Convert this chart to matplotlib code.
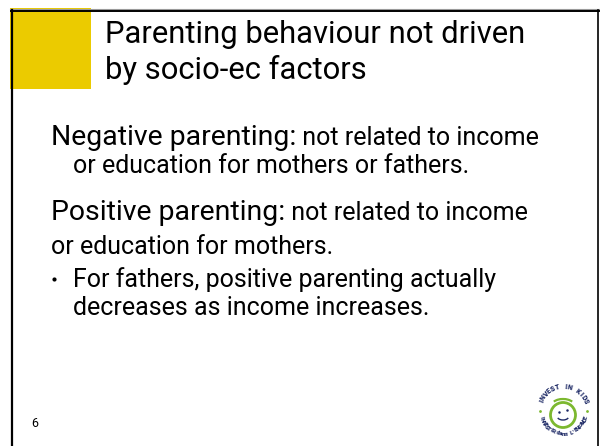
import numpy as np
import matplotlib.pyplot as plt
from matplotlib.patches import Rectangle, Circle, Arc

W, H = 600, 446
FONT = "Roboto"
YELLOW = "#EBCB00"
NAVY = "#1e2a66"
GREEN = "#7cb82f"

# slide text
title_lines = ["Parenting behaviour not driven", "by socio-ec factors"]
title_x = 105
title_y = [43, 79]

# each row: (big run, small run)
rows = [
    ("Negative parenting:", " not related to income"),
    ("", "or education for mothers or fathers."),
    ("Positive parenting:", " not related to income"),
    ("", "or education for mothers."),
    ("", "For fathers, positive parenting actually"),
    ("", "decreases as income increases."),
]
rows_x = [51, 73, 51, 51, 73, 73]
rows_y = [145, 173, 220, 254, 287, 315]
bullet_row = 4
page_number = "6"
logo_top = "INVEST IN KIDS"
logo_bottom = "INVESTIR dans L'ENFANCE"

fig = plt.figure(figsize=(W / 100, H / 100), dpi=100)
ax = fig.add_axes([0, 0, 1, 1])
ax.set_xlim(0, W)
ax.set_ylim(H, 0)
ax.axis("off")
renderer = fig.canvas.get_renderer()


def width_of(txt, size):
    t = ax.text(0, 0, txt, fontsize=size, family=FONT)
    w = t.get_window_extent(renderer).width
    t.remove()
    return w


# font sizes fitted to the widths seen on the slide
fs_title = 20 * (524 - 105) / width_of(title_lines[0], 20)
fs_big = 20 * (295 - 51) / width_of("Negative parenting:", 20)
fs_small = 20 * (468 - 73) / width_of("or education for mothers or fathers.", 20)

# yellow block and frame
ax.add_patch(Rectangle((10, 8), 81, 81, color=YELLOW, lw=0, zorder=1))
ax.plot([10, 599], [8.8, 8.8], color="#9a9a9a", lw=0.8, zorder=2)
ax.plot([10.5, 598.5], [10.6, 10.6], color="black", lw=1.4, zorder=3)
ax.plot([11.8, 11.8], [9.8, H], color="black", lw=1.6, zorder=3)
ax.plot([598.2, 598.2], [9.8, H], color="black", lw=1.2, zorder=3)

# title
for txt, y in zip(title_lines, title_y):
    ax.text(title_x, y, txt, fontsize=fs_title, family=FONT, va="baseline", ha="left")

# body
for (big, small), x, y in zip(rows, rows_x, rows_y):
    if big:
        t = ax.text(x, y, big, fontsize=fs_big, family=FONT, va="baseline", ha="left")
        x += t.get_window_extent(renderer).width
    ax.text(x, y, small, fontsize=fs_small, family=FONT, va="baseline", ha="left")

ax.plot([54], [rows_y[bullet_row] - 8], marker="o", ms=3.0, color="black", mec="none")

ax.text(31, 427, page_number, fontsize=9, family=FONT, va="baseline", ha="left")

# logo
cx, cy, r = 563.5, 410.5, 23.5
for i, ch in enumerate(logo_top):
    th = np.deg2rad(np.linspace(158, 22, len(logo_top))[i])
    ax.text(cx + r * np.cos(th), cy - r * np.sin(th), ch, fontsize=5.0, family=FONT,
            weight="black", color=NAVY, ha="center", va="center",
            rotation=np.rad2deg(th) - 90)
for i, ch in enumerate(logo_bottom):
    th = np.deg2rad(np.linspace(198, 342, len(logo_bottom))[i])
    ax.text(cx + r * np.cos(th), cy - r * np.sin(th), ch, fontsize=4.4, family=FONT,
            weight="black", color=NAVY, ha="center", va="center",
            rotation=np.rad2deg(th) - 270)
for th in [np.deg2rad(180), 0.0]:
    ax.plot([cx + r * np.cos(th)], [cy - r * np.sin(th)], marker="o", ms=2.0,
            color=GREEN, mec="none")

ax.add_patch(Circle((563, 415), 12.5, fill=False, ec=GREEN, lw=2.0))
ax.add_patch(Arc((563, 405), 22, 12, theta1=200, theta2=340, ec=GREEN, lw=1.6))
ax.plot([559, 567], [412, 410], "o", ms=1.8, color=NAVY, mec="none")
ax.add_patch(Arc((563, 416), 12, 8, theta1=20, theta2=160, ec=NAVY, lw=1.0))

fig.savefig("out.png", dpi=100)
